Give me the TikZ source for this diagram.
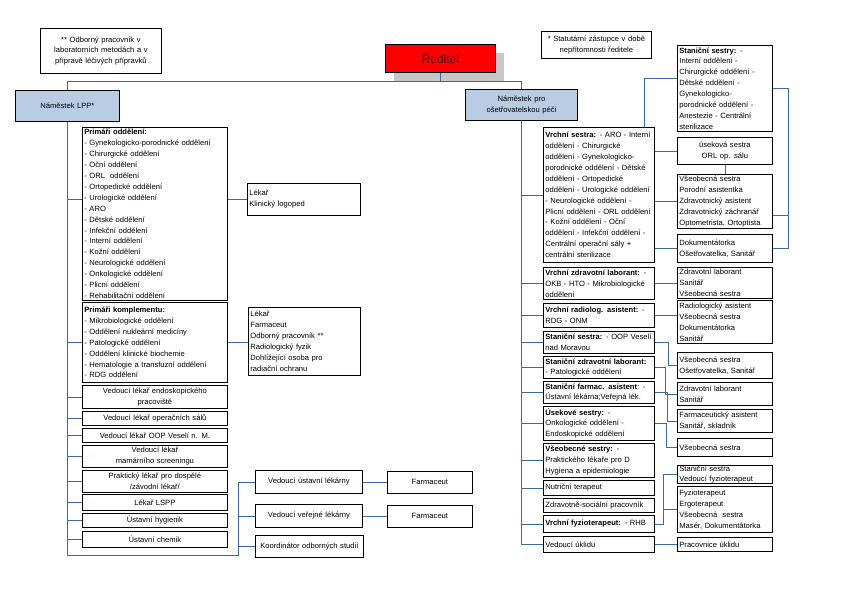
\documentclass[tikz,border=0pt]{standalone}
\usepackage{fontspec}
\setmainfont{Liberation Sans}
\usepackage{tikz}
\usetikzlibrary{shadows}
\definecolor{linkblue}{RGB}{62,104,160}
\definecolor{deputyblue}{RGB}{184,204,228}
\tikzset{
orgbox/.style={rectangle,draw=black,line width=0.8pt,anchor=north west,
  inner xsep=2pt,inner ysep=0pt,align=left,font=\fontsize{7.6}{10.9}\selectfont},
orgmid/.style={orgbox,align=center},
deputy/.style={orgmid,fill=deputyblue},
headbox/.style={rectangle,draw=black,line width=0.8pt,fill=red,anchor=north west,
  minimum width=110pt,minimum height=28pt,text=black!75!red,
  font=\fontsize{12}{14}\selectfont,
  general shadow={fill=black!22,shadow xshift=9pt,shadow yshift=-9pt}},
orgarr/.style={draw=linkblue,line width=0.7pt}
}
\begin{document}
\begin{tikzpicture}[x=1pt,y=-1pt]
\useasboundingbox (0,0) rectangle (842,595);
\node[orgmid,text width=117pt,minimum height=45pt] (labnote) at (40,28) {** Odborný pracovník v\\laboratorních metodách a v\\přípravě léčivých přípravků};
\node[orgmid,text width=106pt,minimum height=27pt] (statnote) at (541,31) {* Statutární zástupce v době\\nepřítomnosti ředitele};
\node[headbox] (reditel) at (385,44) {Ředitel};
\node[deputy,text width=100pt,minimum height=31pt] (lpp) at (15,90) {Náměstek LPP*};
\node[deputy,text width=108pt,minimum height=31pt] (nop) at (465,89) {Náměstek pro\\ošetřovatelskou péči};

\node[orgbox,text width=141pt,minimum height=173pt] (po) at (82,127) {\textbf{Primáři oddělení:}\\- Gynekologicko-porodnické oddělení\\- Chirurgické oddělení\\- Oční oddělení\\- ORL\ \ oddělení\\- Ortopedické oddělení\\- Urologické oddělení\\- ARO\\- Dětské oddělení\\- Infekční oddělení\\- Interní oddělení\\- Kožní oddělení\\- Neurologické oddělení\\- Onkologické oddělení\\- Plicní oddělení\\- Rehabilitační oddělení};
\node[orgbox,text width=141pt,minimum height=80pt] (pk) at (82,302) {\textbf{Primáři komplementu:}\\- Mikrobiologické oddělení\\- Oddělení nukleární medicíny\\- Patologické oddělení\\- Oddělení klinické biochemie\\- Hematologie a transfuzní oddělení\\- RDG oddělení};
\node[orgmid,text width=141pt,minimum height=23pt] (endo) at (82,385) {Vedoucí lékař endoskopického\\pracoviště};
\node[orgmid,text width=141pt,minimum height=14pt] (osal) at (82,411) {Vedoucí lékař operačních sálů};
\node[orgmid,text width=141pt,minimum height=14pt] (oop) at (82,428) {Vedoucí lékař OOP Veselí n. M.};
\node[orgmid,text width=141pt,minimum height=22pt] (mam) at (82,445) {Vedoucí lékař\\mamárního screeningu};
\node[orgmid,text width=141pt,minimum height=22pt] (prl) at (82,470) {Praktický lékař pro dospělé\\/závodní lékař/};
\node[orgmid,text width=141pt,minimum height=16pt] (lspp) at (82,494) {Lékař LSPP};
\node[orgmid,text width=141pt,minimum height=14pt] (hyg) at (82,513) {Ústavní hygienik};
\node[orgmid,text width=141pt,minimum height=16pt] (chem) at (82,531) {Ústavní chemik};

\node[orgbox,text width=109pt,minimum height=32pt] (logo) at (247,183) {Lékař\\Klinický logoped};
\node[orgbox,text width=108pt,minimum height=68pt] (lfar) at (248,307) {Lékař\\Farmaceut\\Odborný pracovník **\\Radiologický fyzik\\Dohlížející osoba pro\\radiační ochranu};
\node[orgmid,text width=103pt,minimum height=23pt] (vul) at (255,470) {Vedoucí ústavní lékárny};
\node[orgmid,text width=103pt,minimum height=23pt] (vvl) at (255,504) {Vedoucí veřejné lékárny};
\node[orgmid,text width=104pt,minimum height=22pt] (koord) at (255,535) {Koordinátor odborných studií};
\node[orgmid,text width=81pt,minimum height=22pt] (farust) at (387,471) {Farmaceut};
\node[orgmid,text width=81pt,minimum height=22pt] (farver) at (387,505) {Farmaceut};

\node[orgbox,text width=107pt,minimum height=135pt] (vrs) at (543,127) {\textbf{Vrchní sestra:} - ARO - Interní\\oddělení - Chirurgické\\oddělení - Gynekologicko-\\porodnické oddělení - Dětské\\oddělení - Ortopedické\\oddělení - Urologické oddělení\\- Neurologické oddělení -\\Plicní oddělení - ORL oddělení\\- Kožní oddělení - Oční\\oddělení - Infekční oddělení -\\Centrální operační sály +\\centrální sterilizace};
\node[orgbox,text width=107pt,minimum height=32pt] (vzl) at (543,267) {\textbf{Vrchní zdravotní laborant:} -\\OKB - HTO - Mikrobiologické\\oddělení};
\node[orgbox,text width=107pt,minimum height=24pt] (vra) at (543,303) {\textbf{Vrchní radiolog. asistent:} -\\RDG - ONM};
\node[orgbox,text width=107pt,minimum height=22pt] (sso) at (543,331) {\textbf{Staniční sestra:} - OOP Veselí\\nad Moravou};
\node[orgbox,text width=107pt,minimum height=22pt] (szl) at (543,356) {\textbf{Staniční zdravotní laborant:}\\- Patologické oddělení};
\node[orgbox,text width=107pt,minimum height=22pt] (sfa) at (543,381) {\textbf{Staniční farmac. asistent}: -\\Ústavní lékárna;Veřejná lék.};
\node[orgbox,text width=107pt,minimum height=34pt] (usek) at (543,406) {\textbf{Úsekové sestry:} -\\Onkologické oddělení -\\Endoskopické oddělení};
\node[orgbox,text width=107pt,minimum height=34pt] (vsp) at (543,443) {\textbf{Všeobecné sestry:} -\\Praktického lékaře pro D\\Hygiena a epidemiologie};
\node[orgbox,text width=107pt,minimum height=15pt] (nut) at (543,480) {Nutriční terapeut};
\node[orgbox,text width=107pt,minimum height=14pt] (zsp) at (543,498) {Zdravotně-sociální pracovník};
\node[orgbox,text width=107pt,minimum height=17pt] (vfz) at (543,515) {\textbf{Vrchní fyzioterapeut:} - RHB};
\node[orgbox,text width=107pt,minimum height=16pt] (vuk) at (543,536) {Vedoucí úklidu};

\node[orgbox,text width=91pt,minimum height=86pt] (ssr) at (677,45) {\textbf{Staniční sestry:} -\\Interní oddělení -\\Chirurgické oddělení -\\Dětské oddělení -\\Gynekologicko-\\porodnické oddělení -\\Anestezie - Centrální\\sterilizace};
\node[orgmid,text width=91pt,minimum height=27pt] (uss) at (677,137) {úseková sestra\\ORL op. sálu};
\node[orgbox,text width=91pt,minimum height=54pt] (vso) at (677,174) {Všeobecná sestra\\Porodní asistentka\\Zdravotnický asistent\\Zdravotnický záchranář\\Optometrista, Ortoptista};
\node[orgbox,text width=91pt,minimum height=28pt] (dok) at (677,234) {Dokumentátorka\\Ošetřovatelka, Sanitář};
\node[orgbox,text width=91pt,minimum height=31pt] (zlv) at (677,267) {Zdravotní laborant\\Sanitář\\Všeobecná sestra};
\node[orgbox,text width=91pt,minimum height=43pt] (ras) at (677,300) {Radiologický asistent\\Všeobecná sestra\\Dokumentátorka\\Sanitář};
\node[orgbox,text width=91pt,minimum height=26pt] (vos) at (677,352) {Všeobecná sestra\\Ošetřovatelka, Sanitář};
\node[orgbox,text width=91pt,minimum height=23pt] (zls) at (677,382) {Zdravotní laborant\\Sanitář};
\node[orgbox,text width=91pt,minimum height=23pt] (fas) at (677,409) {Farmaceutický asistent\\Sanitář, skladník};
\node[orgbox,text width=91pt,minimum height=18pt] (vss) at (677,438) {Všeobecná sestra};
\node[orgbox,text width=91pt,minimum height=18pt] (ssvf) at (677,465) {Staniční sestra\\Vedoucí fyzioterapeut};
\node[orgbox,text width=91pt,minimum height=46pt] (fzt) at (677,486) {Fyzioterapeut\\Ergoterapeut\\Všeobecná\ \ sestra\\Masér, Dokumentátorka};
\node[orgbox,text width=91pt,minimum height=14pt] (pru) at (677,537) {Pracovnice úklidu};

\coordinate (lb) at (238,555);
\coordinate (ssj) at (644,78);
\coordinate (brk) at (788,88);
\coordinate (brt) at (788,215);

\draw[orgarr] (reditel.south) -- ++(0,9) coordinate (rj);
\draw[orgarr] (lpp.north) |- (rj) -| (nop.north);

\draw[orgarr] (lpp.south) |- (po.west |- logo.west);
\draw[orgarr] (lpp.south) |- (pk.west);
\draw[orgarr] (lpp.south) |- (endo.west);
\draw[orgarr] (lpp.south) |- (osal.west);
\draw[orgarr] (lpp.south) |- (oop.west);
\draw[orgarr] (lpp.south) |- (mam.west);
\draw[orgarr] (lpp.south) |- (prl.west);
\draw[orgarr] (lpp.south) |- (lspp.west);
\draw[orgarr] (lpp.south) |- (hyg.west);
\draw[orgarr] (lpp.south) |- (chem.west);
\draw[orgarr] (lpp.south) |- (lb) |- (koord.west);
\draw[orgarr] (lb) |- (vul.west);
\draw[orgarr] (lb) |- (vvl.west);
\draw[orgarr] (logo.west) -- (logo.west -| po.east);
\draw[orgarr] (pk.east) -- (pk.east -| lfar.west);
\draw[orgarr] (vul.east) -- (vul.east -| farust.west);
\draw[orgarr] (vvl.east) -- (vvl.east -| farver.west);

\draw[orgarr] (nop.south) |- (vrs.west);
\draw[orgarr] (nop.south) |- (vzl.west);
\draw[orgarr] (nop.south) |- (vra.west);
\draw[orgarr] (nop.south) |- (sso.west);
\draw[orgarr] (nop.south) |- (szl.west);
\draw[orgarr] (nop.south) |- (sfa.west);
\draw[orgarr] (nop.south) |- (usek.west);
\draw[orgarr] (nop.south) |- (vsp.west);
\draw[orgarr] (nop.south) |- (nut.west);
\draw[orgarr] (nop.south) |- (vfz.west);
\draw[orgarr] (nop.south) |- (vuk.west);

\draw[orgarr] (ssr.west |- ssj) -- (ssj) -- (ssj |- vrs.north);
\draw[orgarr] (uss.west) -- (uss.west -| vrs.east);
\draw[orgarr] (vso.west) -- (vso.west -| vrs.east);
\draw[orgarr] (dok.west) -- (dok.west -| vrs.east);
\draw[orgarr] (uss.south) -- (vso.north);
\draw[orgarr] (ssr.east |- brk) -- (brk) |- (dok.east);
\draw[orgarr] (vso.east |- brt) -- (brt);

\draw[orgarr] (vzl.east) -- (vzl.east -| zlv.west);
\draw[orgarr] (vra.east) -- (vra.east -| ras.west);
\draw[orgarr] (sso.east) -- ++(14,0) |- (vos.west);
\draw[orgarr] (szl.east) -- ++(11,0) |- (zls.west);
\draw[orgarr] (sfa.east) -- ++(13,0) |- (fas.west);
\draw[orgarr] (usek.east) -- ++(12,0) |- (vss.west);
\draw[orgarr] (vfz.east) -- ++(9,0) coordinate (fzj) |- (ssvf.west);
\draw[orgarr] (fzj) |- (fzt.west);
\draw[orgarr] (vuk.east) -- (vuk.east -| pru.west);
\end{tikzpicture}
\end{document}
